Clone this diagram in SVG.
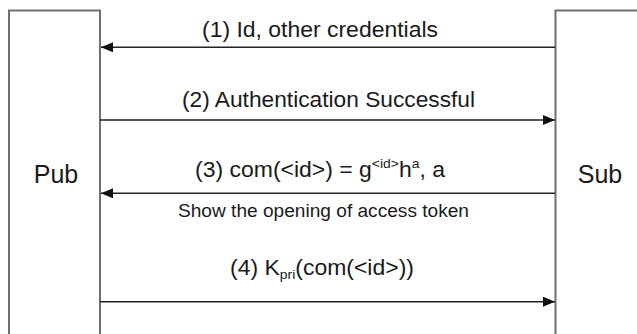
<svg xmlns="http://www.w3.org/2000/svg" width="637" height="334" viewBox="0 0 637 334">
  <style>
    .box { fill: #ffffff; stroke: #707070; stroke-width: 2; }
    .msg { stroke: #222222; stroke-width: 1.5; fill: none; }
    .lbl { font-family: "Liberation Sans", Arial, sans-serif; font-size: 21.5px; fill: #1a1a1a; }
    .small { font-family: "Liberation Sans", Arial, sans-serif; font-size: 18px; fill: #1a1a1a; }
    .ent { font-family: "Liberation Sans", Arial, sans-serif; font-size: 25px; fill: #1a1a1a; text-anchor: middle; }
    .sup { font-size: 13px; }
  </style>
  <defs>
    <marker id="arrow" viewBox="0 0 12 10" refX="12" refY="5" markerWidth="12" markerHeight="10" markerUnits="userSpaceOnUse" orient="auto">
      <path d="M0,0 L12,5 L0,10 Z" fill="#111111"/>
    </marker>
  </defs>

  <rect width="637" height="334" fill="#ffffff"/>

  <!-- publisher lifeline box -->
  <g id="pub">
    <rect class="box" x="9" y="10.5" width="91" height="340"/>
    <text class="ent" x="56" y="183">Pub</text>
  </g>

  <!-- subscriber lifeline box -->
  <g id="sub">
    <rect class="box" x="555.5" y="10.5" width="100" height="340"/>
    <text class="ent" x="600" y="183">Sub</text>
  </g>

  <!-- messages between the two parties -->
  <g id="connectors">
    <line class="msg" x1="555" y1="47.3" x2="101" y2="47.3" marker-end="url(#arrow)"/>
    <line class="msg" x1="100" y1="120" x2="555" y2="120" marker-end="url(#arrow)"/>
    <line class="msg" x1="555" y1="193.3" x2="101" y2="193.3" marker-end="url(#arrow)"/>
    <line class="msg" x1="100" y1="301.7" x2="555" y2="301.7" marker-end="url(#arrow)"/>
  </g>

  <g id="labels">
    <text class="lbl" x="202" y="36.5" textLength="236" lengthAdjust="spacingAndGlyphs">(1) Id, other credentials</text>
    <text class="lbl" x="182" y="107" textLength="293" lengthAdjust="spacingAndGlyphs">(2) Authentication Successful</text>
    <text class="lbl" x="195" y="176.7" textLength="250" lengthAdjust="spacingAndGlyphs">(3) com(&lt;id&gt;) = g<tspan class="sup" dy="-9">&lt;id&gt;</tspan><tspan dy="9">h</tspan><tspan class="sup" dy="-9">a</tspan><tspan dy="9">, a</tspan></text>
    <text class="small" x="178" y="216.7" textLength="291" lengthAdjust="spacingAndGlyphs">Show the opening of access token</text>
    <text class="lbl" x="230" y="275" textLength="184" lengthAdjust="spacingAndGlyphs">(4) K<tspan class="sup" dy="4">pri</tspan><tspan dy="-4">(com(&lt;id&gt;))</tspan></text>
  </g>
</svg>
